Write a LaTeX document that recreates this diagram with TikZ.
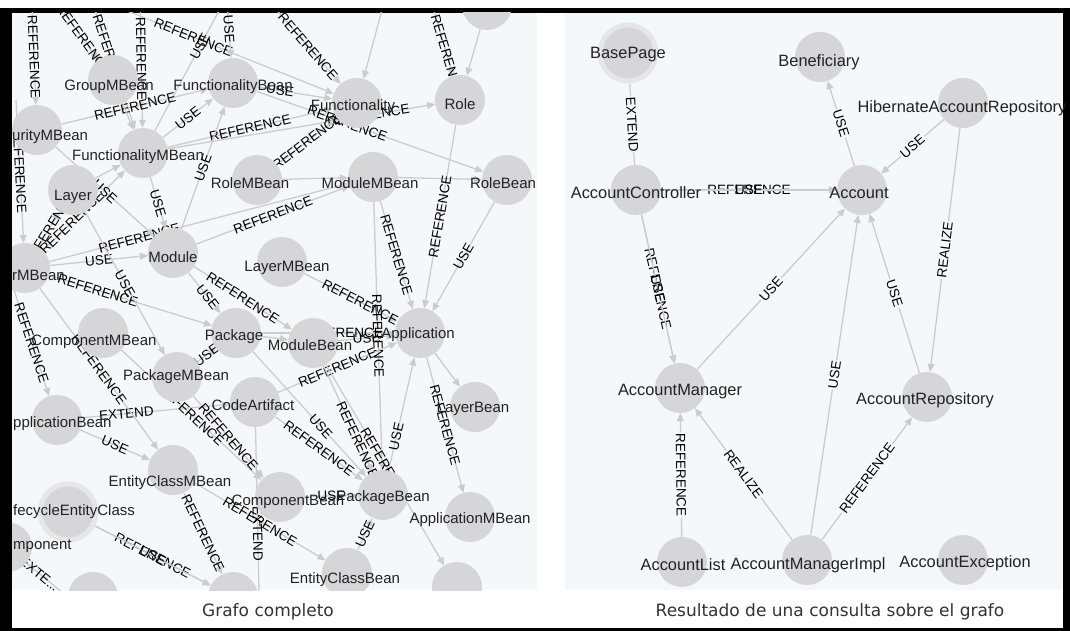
\documentclass[tikz,border=0pt]{standalone}
\usepackage{fontspec}
\setmainfont{Liberation Sans}
\newfontfamily\capfont{DejaVu Sans}
\usetikzlibrary{arrows.meta}

\definecolor{panelbg}{RGB}{245,248,251}
\definecolor{nodegray}{RGB}{214,214,216}
\definecolor{ringgray}{RGB}{230,230,232}
\definecolor{edgegray}{RGB}{204,204,207}
\definecolor{txtdark}{RGB}{34,34,34}
\definecolor{captext}{RGB}{51,51,51}

\pgfdeclarelayer{back}
\pgfdeclarelayer{mid}
\pgfsetlayers{back,mid,main}

\begin{document}
\begin{tikzpicture}[x=1pt, y=-1pt,
	gnode/.style={
		circle,
		fill=nodegray,
		inner sep=0pt,
		minimum size=50pt
	},
	ringnode/.style={
		gnode,
		draw=ringgray,
		line width=5pt,
		minimum size=56pt
	},
	ltext/.style={
		font=\fontsize{15}{15}\selectfont,
		text=txtdark,
		inner sep=0pt
	},
	rtext/.style={
		font=\fontsize{16.4}{16.4}\selectfont,
		text=txtdark,
		inner sep=0pt
	},
	link/.style={
		draw=edgegray,
		line width=1.3pt,
		-{Triangle[length=8pt,width=7pt]}
	},
	bare/.style={
		draw=edgegray,
		line width=1.3pt
	},
	elabel/.style={
		font=\fontsize{13.5}{13.5}\selectfont,
		text=black,
		inner sep=1pt,
		sloped,
		midway
	},
	rlabel/.style={
		elabel,
		fill=panelbg
	},
	caption/.style={
		font=\capfont\fontsize{17}{17}\selectfont,
		text=captext
	},
]

\useasboundingbox (0,0) rectangle (1070,631);

% frame and the two panels
\begin{pgfonlayer}{back}
	\fill[black] (0,8) rectangle (1070,631);
	\fill[white] (12,13) rectangle (1063,628);
	\fill[panelbg] (12,13) rectangle (537,590);
	\fill[panelbg] (565,13) rectangle (1063,590);
\end{pgfonlayer}

% ---- full graph ----
\begin{scope}
\clip (12,13) rectangle (537,590);

\foreach \n/\x/\y in {gmb/113/80, fb/233/83, fn/357/103, role/460/100, tpa/487/5,
		smb/37/130, fmb/143/153, layer/73/190, rmb/257/180, mmb/373/177, rb/507/180,
		umb/25/268, mod/173/253, lmb/282/262, cmb/103/333, pkg/236/333, modb/313/343,
		app/420/333, pmb/177/377, ca/255/402, apb/57/420, lb/475/407, ecmb/173/470,
		cpn/7/547, cb/280/497, pb/383/495, amb/470/517, ecb/347/573,
		bta/93/597, btb/233/597, btc/457/587}
	\node[gnode] (\n) at (\x,\y) {};
\node[ringnode] (lec) at (68,512) {};

\foreach \n/\dx/\dy/\t in {gmb/-4/7/GroupMBean, fb/0/4/FunctionalityBean,
		fn/-4/4/Functionality, role/0/4/Role, fmb/-5/4/FunctionalityMBean,
		layer/0/7/Layer, rmb/-7/3/RoleMBean, mmb/-3/6/ModuleMBean, rb/-4/3/RoleBean,
		mod/0/4/Module, lmb/5/6/LayerMBean, cmb/-9/9/ComponentMBean, pkg/-2/4/Package,
		modb/-3/2/ModuleBean, app/-2/2/Application, pmb/-1/0/PackageMBean,
		ca/-2/3/CodeArtifact, lb/-2/2/LayerBean, ecmb/-3/13/EntityClassMBean,
		cb/8/5/ComponentBean, pb/0/3/PackageBean, amb/0/3/ApplicationMBean,
		ecb/-2/7/EntityClassBean}
	\node[ltext] (\n-t) at ([shift={(\dx,\dy)}]\n) {\t};

\node[ltext, anchor=west] (smb-t) at (12,137) {urityMBean};
\node[ltext, anchor=west] (umb-t) at (12,275) {rMBean};
\node[ltext, anchor=west] (apb-t) at (13,424) {pplicationBean};
\node[ltext, anchor=west] (lec-t) at (13,512) {fecycleEntityClass};
\node[ltext, anchor=west] (cpn-t) at (13,546) {mponent};
\end{scope}

\begin{pgfonlayer}{mid}
\begin{scope}
\clip (12,13) rectangle (537,590);
\coordinate (ta) at (30,-40);
\coordinate (tb) at (40,-20);
\coordinate (tc) at (85,-20);
\coordinate (td) at (100,0);
\coordinate (te) at (140,-10);
\coordinate (tf) at (230,-10);
\coordinate (tg) at (225,-25);
\coordinate (th) at (255,-15);
\coordinate (ti) at (390,-20);
\coordinate (tj) at (425,-20);
\coordinate (la) at (16,100);
\coordinate (lb2) at (14,290);
\coordinate (ba) at (260,640);
\coordinate (bb) at (120,640);

\draw[link] (ta) -- node[elabel, pos=.67] {REFERENCE} (smb);
\draw[link] (tb) -- node[elabel, pos=.75] {REFERENCE} (gmb);
\draw[link] (tc) -- node[elabel, pos=.5] {REFERENCE} (fmb);
\draw[link] (td) -- node[elabel, pos=.4] {REFERENCE} (fn);
\draw[link] (te) -- node[elabel, pos=.5] {REFERENCE} (fmb);
\draw[link] (fmb) -- node[elabel, pos=.6] {USE} (tf);
\draw[link] (tg) -- node[elabel, pos=.65] {USE} (fb);
\draw[link] (th) -- node[elabel, pos=.62] {REFERENCE} (fn);
\draw[link] (ti) -- (fn);
\draw[link] (tj) -- node[elabel, pos=.78] {REFERENCE} (role);
\draw[link] (tpa) -- (role);
\draw[link] (smb) -- node[elabel] {REFERENCE} (fb);
\draw[link] (fmb) -- node[elabel] {REFERENCE} (fn);
\draw[link] (fmb) -- node[elabel] {USE} (fb);
\draw[link] (fb) -- node[elabel, pos=.3] {USE} (fn);
\draw[link] (fmb) -- node[elabel, pos=.75] {REFERENCE} (role);
\draw[link] (rmb) -- node[elabel] {REFERENCE} (fn);
\draw[link] (fb) -- node[elabel, pos=.4] {REFERENCE} (rb);
\draw[link] (mmb) -- (rb);
\draw[link] (rmb) -- (mmb);
\draw[link] (gmb) -- (fmb);
\draw[link] (layer) -- (fmb);
\draw[link] (role) -- node[elabel] {REFERENCE} (app);
\draw[link] (rb) -- node[elabel] {USE} (app);
\draw[link] (mmb) -- node[elabel] {REFERENCE} (app);
\draw[link] (lmb) -- node[elabel, pos=.6] {REFERENCE} (app);
\draw[link] (modb) -- node[elabel] {USE} (app);
\draw[link] (mmb) -- node[elabel] {REFERENCE} (pb);
\draw[link] (pkg) -- node[elabel, pos=.6] {REFERENCE} (app);
\draw[link] (ca) -- node[elabel] {REFERENCE} (app);
\draw[link] (app) -- (lb);
\draw[link] (app) -- node[elabel] {REFERENCE} (amb);
\draw[link] (modb) -- node[elabel, pos=.7] {REFERENCE} (pb);
\draw[link] (pb) -- node[elabel, pos=.3] {USE} (app);
\draw[link] (cb) -- node[elabel] {USE} (pb);
\draw[link] (ecb) -- node[elabel] {USE} (pb);
\draw[link] (ecmb) -- node[elabel] {REFERENCE} (ecb);
\draw[link] (lec) -- node[elabel] {REFERENCE} (btb);
\draw[link] (lec) -- node[elabel] {USE} (btb);
\draw[link] (ecmb) -- node[elabel] {REFERENCE} (btb);
\draw[link] (ca) -- node[elabel] {EXTEND} (ba);
\draw[link] (apb) -- node[elabel, pos=.3] {EXTEND} (ca);
\draw[link] (umb) -- node[elabel, pos=.3] {REFERENCE} (pkg);
\draw[link] (umb) -- node[elabel] {USE} (mod);
\draw[link] (umb) -- node[elabel] {REFERENCE} (layer);
\draw[link] (umb) -- node[elabel, pos=.3] {REFERENCE} (mmb);
\draw[link] (mod) -- node[elabel] {REFERENCE} (mmb);
\draw[link] (umb) -- node[elabel, pos=.35] {REFERENCE} (fmb);
\draw[link] (la) -- node[elabel] {REFERENCE} (umb);
\draw[link] (smb) -- node[elabel] {USE} (mod);
\draw[link] (fmb) -- node[elabel] {USE} (mod);
\draw[link] (mod) -- node[elabel] {USE} (fb);
\draw[link] (mod) -- node[elabel, pos=.6] {USE} (pkg);
\draw[link] (layer) -- node[elabel] {USE} (pmb);
\draw[link] (mod) -- node[elabel] {REFERENCE} (modb);
\draw[link] (lb2) -- node[elabel] {REFERENCE} (apb);
\draw[link] (umb) -- node[elabel] {REFERENCE} (ecmb);
\draw[link] (cmb) -- node[elabel] {REFERENCE} (cb);
\draw[link] (apb) -- node[elabel] {USE} (ecmb);
\draw[link] (pmb) -- node[elabel] {REFERENCE} (cb);
\draw[link] (pmb) -- node[elabel] {USE} (pkg);
\draw[link] (pkg) -- (modb);
\draw[link] (cpn) -- node[elabel, pos=.14] {EXTE...} (bb);
\draw[link] (modb) -- node[elabel] {REFERENCE} (btc);
\draw[link] (pkg) -- node[elabel, pos=.6] {USE} (pb);
\draw[link] (ca) -- node[elabel] {REFERENCE} (pb);
\end{scope}
\end{pgfonlayer}

% ---- query result ----
\foreach \n/\x/\y in {ben/820/57, har/963/103, ac/636/190, acc/862/190,
		am/680/388, ar/927/397, al/682/562, ami/807/560, aex/963/560}
	\node[gnode] (\n) at (\x,\y) {};
\node[ringnode] (bp) at (628,53) {};

\foreach \n/\dx/\dy/\t in {bp/0/2/BasePage, ben/-1/5/Beneficiary,
		har/-1/5/HibernateAccountRepository, ac/0/3/AccountController,
		acc/-3/3/Account, am/0/4/AccountManager, ar/-2/3/AccountRepository,
		al/1/3/AccountList, ami/1/5/AccountManagerImpl, aex/2/3/AccountException}
	\node[rtext] (\n-t) at ([shift={(\dx,\dy)}]\n) {\t};

\begin{pgfonlayer}{mid}
\draw[bare] (ac) -- node[rlabel] {EXTEND} (bp);
\draw[link] (ac) -- node[rlabel] {REFERENCE} (acc);
\draw[link] (ac) -- node[elabel] {USE} (acc);
\draw[link] (acc) -- node[rlabel] {USE} (ben);
\draw[link] (har) -- node[rlabel] {USE} (acc);
\draw[link] (har) -- node[rlabel] {REALIZE} (ar);
\draw[link] (ac) -- node[rlabel] {REFERENCE} (am);
\draw[link] (ac) -- node[elabel] {USE} (am);
\draw[link] (am) -- node[rlabel] {USE} (acc);
\draw[link] (ar) -- node[rlabel] {USE} (acc);
\draw[link] (ami) -- node[rlabel] {USE} (acc);
\draw[link] (ami) -- node[rlabel] {REALIZE} (am);
\draw[link] (al) -- node[rlabel] {REFERENCE} (am);
\draw[link] (ami) -- node[rlabel] {REFERENCE} (ar);
\end{pgfonlayer}

% captions
\node[caption] (cap-l) at (268,612) {Grafo completo};
\node[caption] (cap-r) at (830,612) {Resultado de una consulta sobre el grafo};

\end{tikzpicture}
\end{document}
